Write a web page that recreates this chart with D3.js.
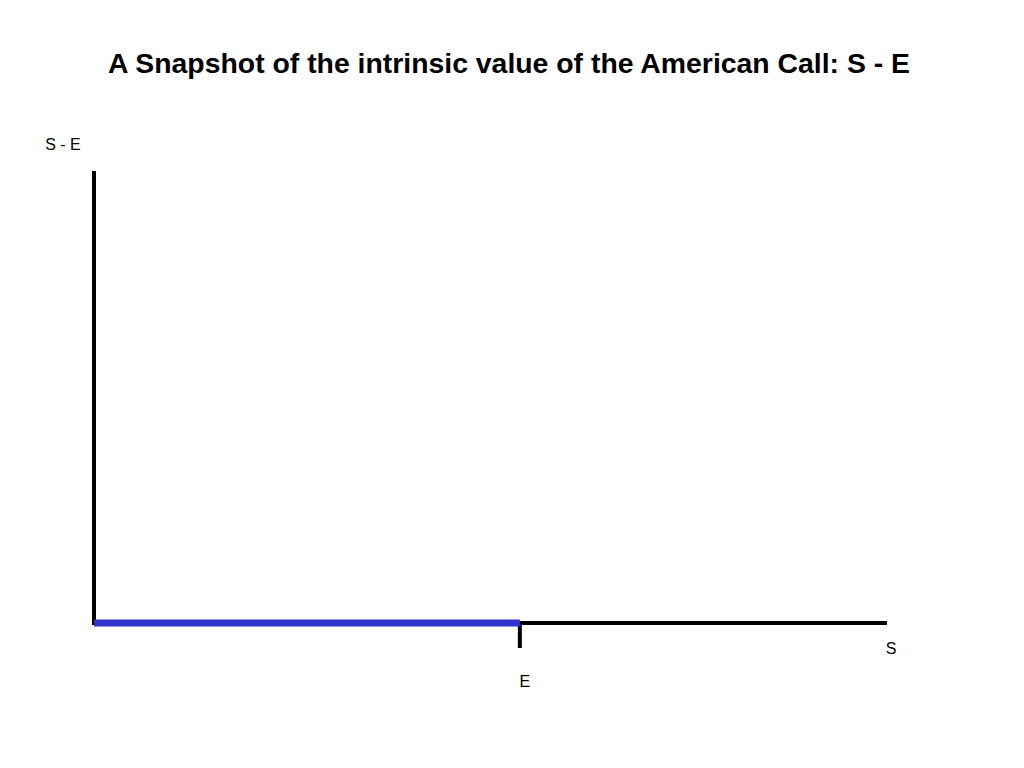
<!DOCTYPE html>
<html><head><meta charset="utf-8">
<script src="https://cdn.jsdelivr.net/npm/d3@7"></script>
<style>body{margin:0;background:#fff}svg{display:block}</style>
</head><body>
<script>
const title = "A Snapshot of the intrinsic value of the American Call: S - E";
const yLabel = "S - E";
const xLabel = "S";
const strikeLabel = "E";
const sDomain = [0, 100];
const yDomain = [0, 100];
const strike = 53.7;
const payoffS = [0, 53.7];
const payoffV = [0, 0];

const W = 1024, H = 768;
const svg = d3.select("body").append("svg").attr("width", W).attr("height", H);
const x = d3.scaleLinear().domain(sDomain).range([94, 887]);
const y = d3.scaleLinear().domain(yDomain).range([623, 171]);

svg.append("text").attr("x", 509).attr("y", 73).attr("text-anchor", "middle")
  .attr("font-family", "Liberation Sans Narrow, Liberation Sans, Arial, sans-serif")
  .attr("font-weight", "bold").attr("font-size", 27)
  .attr("textLength", 802).attr("lengthAdjust", "spacingAndGlyphs")
  .text(title);

// y axis
svg.append("line").attr("x1", x(0)).attr("x2", x(0)).attr("y1", y(yDomain[1])).attr("y2", y(0) + 2)
  .attr("stroke", "#000").attr("stroke-width", 4);
// x axis
svg.append("line").attr("x1", x(0)).attr("x2", x(sDomain[1])).attr("y1", y(0)).attr("y2", y(0))
  .attr("stroke", "#000").attr("stroke-width", 4);
// strike tick
svg.append("line").attr("x1", x(strike)).attr("x2", x(strike)).attr("y1", y(0)).attr("y2", y(0) + 25)
  .attr("stroke", "#000").attr("stroke-width", 4);

// payoff segment
const line = d3.line().x((d, i) => x(payoffS[i])).y((d, i) => y(payoffV[i]));
svg.append("path").datum(payoffS).attr("d", line)
  .attr("fill", "none").attr("stroke", "#3333CC").attr("stroke-width", 7);

const lab = (t, xx, yy) => svg.append("text").attr("x", xx).attr("y", yy).attr("text-anchor", "middle")
  .attr("font-family", "Liberation Sans, Arial, sans-serif").attr("font-size", 16).attr("fill", "#000").text(t);
lab(yLabel, 63, 150);
lab(xLabel, 891, 654);
lab(strikeLabel, x(strike) + 5, 687);
</script>
</body></html>
